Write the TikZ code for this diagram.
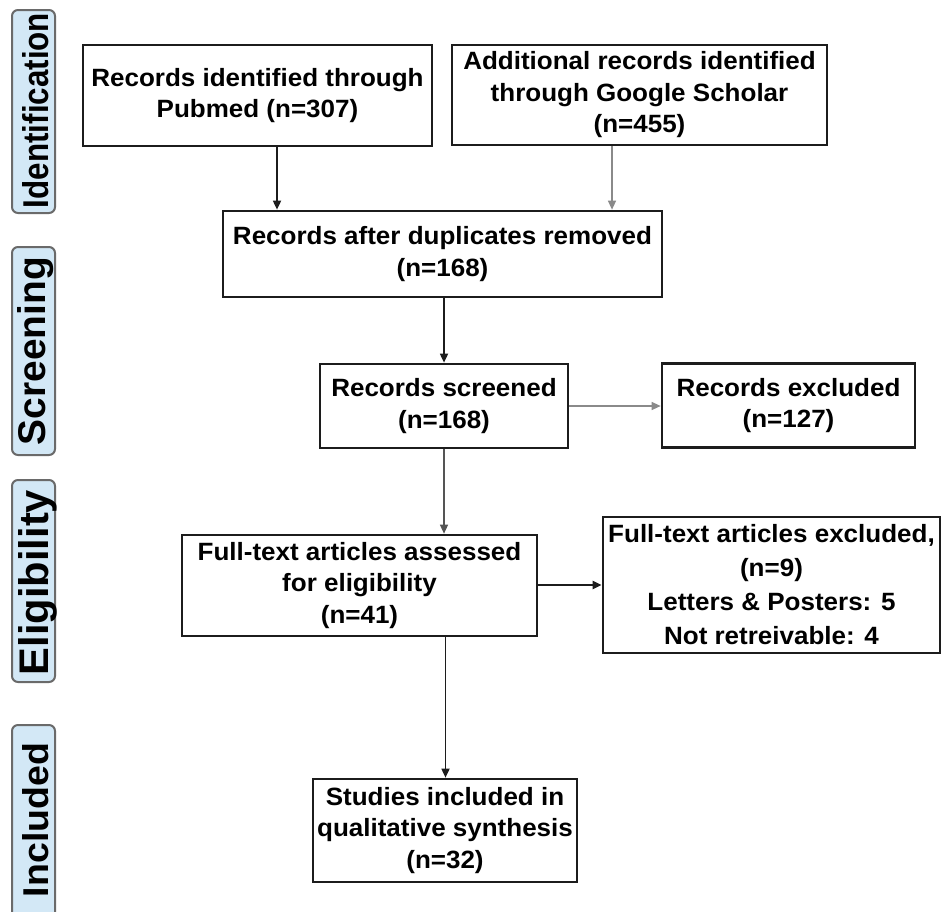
\documentclass[tikz,border=0pt]{standalone}
\usepackage{fontspec}
\usepackage{graphicx}
\setmainfont{Liberation Sans}
\newfontfamily\boxfamily{Liberation Sans}[FakeStretch=1.04]
\usetikzlibrary{arrows.meta}
\definecolor{lblfill}{HTML}{D3E8F6}
\definecolor{lbledge}{HTML}{6A6A6A}
\definecolor{edgecol}{HTML}{1C1C1C}
\definecolor{arrgray}{HTML}{8A8A8A}
\definecolor{arrmid}{HTML}{555555}
\newcommand\boxtext{\boxfamily\bfseries\fontsize{25}{31.5}\selectfont}
\newcommand\boxtextwide{\boxfamily\bfseries\fontsize{25}{34}\selectfont}
\tikzset{
  box/.style={draw=edgecol, line width=2.7pt, fill=white, inner sep=0pt, align=center, font=\boxtext},
  lbl/.style={draw=lbledge, line width=2pt, fill=lblfill, rounded corners=6pt, inner sep=0pt},
  lbltext/.style={rotate=90, anchor=base, inner sep=0pt, font=\bfseries},
  arr/.style={-{Triangle[length=9pt,width=8pt]}, line width=1.7pt, draw=edgecol},
  arrlight/.style={arr, line width=1.3pt, draw=arrgray},
  arrmidc/.style={arr, line width=1.4pt, draw=arrmid}
}
\begin{document}
\begin{tikzpicture}[x=1pt,y=-1pt]
\useasboundingbox (0,0) rectangle (941,911);
\fill[white] (0,0) rectangle (941,911);
\clip (0,0) rectangle (941,911);

% phase labels
\node[lbl, minimum width=43pt, minimum height=203pt] (lid) at (33.5,111.5) {};
\node[lbl, minimum width=43pt, minimum height=208pt] (lsc) at (33.5,351) {};
\node[lbl, minimum width=43pt, minimum height=202pt] (lel) at (33.5,581) {};
\node[lbl, minimum width=43pt, minimum height=195pt] (lin) at (33.5,822.5) {};
\node[lbltext] (tid) at (48.5,110.5) {\resizebox{195pt}{26pt}{\bfseries Identification}};
\node[lbltext] (tsc) at (45.5,351) {\resizebox{188pt}{28pt}{\bfseries Screening}};
\node[lbltext] (tel) at (48,582.5) {\resizebox{185pt}{30pt}{\bfseries Eligibility}};
\node[lbltext] (tin) at (48,820) {\resizebox{154pt}{26pt}{\bfseries Included}};

% boxes
\node[box, minimum width=349pt, minimum height=101pt] (b1) at (257.5,95.5)
  {Records identified through\\Pubmed (n=307)};
\node[box, minimum width=375pt, minimum height=100pt] (b2) at (639.5,95)
  {Additional records identified\\through Google Scholar\\(n=455)};
\node[box, minimum width=439pt, minimum height=86pt] (b3) at (442.5,254)
  {Records after duplicates removed\\(n=168)};
\node[box, minimum width=248pt, minimum height=84pt] (b4) at (444,406)
  {Records screened\\(n=168)};
\node[box, minimum width=253pt, minimum height=84pt] (b5) at (788.5,405.5)
  {Records excluded\\(n=127)};
\node[box, minimum width=355pt, minimum height=101pt] (b6) at (359.5,585.5)
  {Full-text articles assessed\\for eligibility\\(n=41)};
\node[box, font=\boxtextwide, minimum width=337pt, minimum height=136pt] (b7) at (771.5,585)
  {Full-text articles excluded,\\(n=9)\\Letters \& Posters: 5\\Not retreivable: 4};
\node[box, minimum width=264pt, minimum height=103pt] (b8) at (445,830.5)
  {Studies included in\\qualitative synthesis\\(n=32)};

% connector columns
\coordinate (c1) at (277,0);
\coordinate (c2) at (612,0);
\coordinate (c3) at (444,0);
\coordinate (c4) at (445.5,0);

\draw[arr] (b1.south -| c1) -- (b3.north -| c1);
\draw[arrlight] (b2.south -| c2) -- (b3.north -| c2);
\draw[arr] (b3.south -| c3) -- (b4.north -| c3);
\draw[arrlight] (b4.east) -- (b5.west |- b4.east);
\draw[arrmidc] (b4.south -| c3) -- (b6.north -| c3);
\draw[arr, line width=2pt] (b6.east |- b7.west) -- (b7.west);
\draw[arr] (b6.south -| c4) -- (b8.north -| c4);
\end{tikzpicture}
\end{document}
